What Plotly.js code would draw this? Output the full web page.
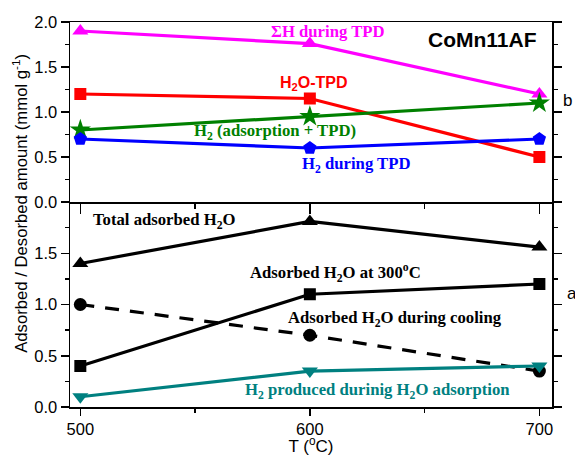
<!DOCTYPE html>
<html>
<head>
<meta charset="utf-8">
<script src="https://cdn.plot.ly/plotly-3.0.1.min.js"></script>
<style>html,body{margin:0;padding:0;background:#fff;}#chart{width:575px;height:456px;}</style>
</head>
<body>
<div id="chart"></div>
<script>
// Temperatures (°C)
const temps = [500, 600, 700];

// Panel b (top)
const sumH_TPD = [1.90, 1.76, 1.20];
const h2o_TPD = [1.20, 1.15, 0.50];
const h2_adsTPD = [0.80, 0.95, 1.10];
const h2_duringTPD = [0.70, 0.60, 0.70];

// Panel a (bottom)
const totalAdsH2O = [1.40, 1.81, 1.56];
const adsH2O_300 = [0.40, 1.10, 1.20];
const adsH2O_cooling = [1.00, 0.70, 0.35];
const h2_producedAds = [0.10, 0.35, 0.40];

const serif = 'Liberation Serif, Times New Roman, serif';
const sans = 'Liberation Sans, Arial, sans-serif';

function tr(y, color, symbol, xa, ya, dash, size) {
  return {
    x: temps, y: y, xaxis: xa, yaxis: ya, type: 'scatter', mode: 'lines+markers',
    line: {color: color, width: 3.2, dash: dash || 'solid'},
    marker: {color: color, symbol: symbol, size: size || 14},
    showlegend: false, cliponaxis: false
  };
}

const data = [
  tr(sumH_TPD, '#FF00FF', 'triangle-up', 'x2', 'y2'),
  tr(h2o_TPD, '#FF0000', 'square', 'x2', 'y2', null, 12),
  tr(h2_adsTPD, '#008000', 'star', 'x2', 'y2', null, 16),
  tr(h2_duringTPD, '#0000FF', 'pentagon', 'x2', 'y2', null, 14),
  tr(totalAdsH2O, '#000000', 'triangle-up', 'x', 'y'),
  tr(adsH2O_300, '#000000', 'square', 'x', 'y', null, 12),
  tr(adsH2O_cooling, '#000000', 'circle', 'x', 'y', '14px,11px', 13),
  tr(h2_producedAds, '#008080', 'triangle-down', 'x', 'y')
];

const split = 205/385;
const axisCommon = {
  showline: true, linecolor: '#000', linewidth: 1.5, showgrid: false, zeroline: false,
  ticks: 'outside', tickcolor: '#000', tickwidth: 1.5,
  tickfont: {family: sans, size: 16.5, color: '#000'}
};

function ann(text, x, y, color, xref, yref, family, size) {
  return {text: text, x: x, y: y, xref: xref, yref: yref, showarrow: false,
    xanchor: 'center', yanchor: 'middle',
    font: {family: family || serif, size: size || 16.7, color: color}};
}

const layout = {
  width: 575, height: 456,
  margin: {l: 70, r: 23, t: 22, b: 49},
  paper_bgcolor: '#fff', plot_bgcolor: '#fff',
  xaxis: Object.assign({}, axisCommon, {
    domain: [0, 1], anchor: 'y', range: [495.5, 705.5],
    tickmode: 'array', tickvals: [500, 600, 700], ticklen: 7,
    minor: {tickvals: [550, 650], ticklen: 4, ticks: 'outside', tickcolor: '#000', tickwidth: 1.5},
    title: {text: 'T (<sup>o</sup>C)', font: {family: sans, size: 17, color: '#000'}, standoff: 5}
  }),
  xaxis2: Object.assign({}, axisCommon, {
    domain: [0, 1], anchor: 'y2', matches: 'x', range: [495.5, 705.5],
    showticklabels: false, mirror: true,
    tickmode: 'array', tickvals: [500, 600, 700], ticklen: 10,
    minor: {tickvals: [550, 650], ticklen: 5, ticks: 'outside', tickcolor: '#000', tickwidth: 1.5}
  }),
  yaxis: Object.assign({}, axisCommon, {
    domain: [0, split], anchor: 'x', range: [0, 2],
    tickmode: 'array', tickvals: [0, 0.5, 1.0, 1.5], ticktext: ['0.0', '0.5', '1.0', '1.5'],
    ticklen: 8, mirror: 'ticks',
    minor: {tickvals: [0.25, 0.75, 1.25, 1.75], ticklen: 4, ticks: 'outside', tickcolor: '#000', tickwidth: 1.5}
  }),
  yaxis2: Object.assign({}, axisCommon, {
    domain: [split, 1], anchor: 'x2', range: [0, 2],
    tickmode: 'array', tickvals: [0, 0.5, 1.0, 1.5, 2.0], ticktext: ['0.0', '0.5', '1.0', '1.5', '2.0'],
    ticklen: 8, mirror: 'ticks',
    minor: {tickvals: [0.25, 0.75, 1.25, 1.75], ticklen: 4, ticks: 'outside', tickcolor: '#000', tickwidth: 1.5}
  }),
  annotations: [
    ann('<b>ΣH during TPD</b>', 607.7, 1.89, '#FF00FF', 'x2', 'y2'),
    ann('<b>CoMn11AF</b>', 675.4, 1.81, '#000', 'x2', 'y2', sans, 21),
    ann('<b>H<sub>2</sub>O-TPD</b>', 602, 1.32, '#FF0000', 'x2', 'y2', sans, 16),
    ann('<b>H<sub>2</sub> (adsorption + TPD)</b>', 584.8, 0.78, '#008000', 'x2', 'y2'),
    ann('<b>H<sub>2</sub> during TPD</b>', 620.2, 0.41, '#0000FF', 'x2', 'y2'),
    ann('<b>Total adsorbed H<sub>2</sub>O</b>', 536.3, 1.81, '#000', 'x', 'y'),
    ann('<b>Adsorbed H<sub>2</sub>O at 300<sup>o</sup>C</b>', 611.2, 1.31, '#000', 'x', 'y'),
    ann('<b>Adsorbed H<sub>2</sub>O during cooling</b>', 636.9, 0.857, '#000', 'x', 'y'),
    ann('<b>H<sub>2</sub> produced durinig H<sub>2</sub>O adsorption</b>', 629.6, 0.158, '#008080', 'x', 'y'),
    ann('b', 1.033, 0.797, '#000', 'paper', 'paper', sans, 17),
    ann('a', 1.041, 0.296, '#000', 'paper', 'paper', sans, 17),
    {text: 'Adsorbed / Desorbed amount (mmol g<sup>-1</sup>)', x: -0.104, y: 0.53, xref: 'paper', yref: 'paper',
     showarrow: false, textangle: -90, xanchor: 'center', yanchor: 'middle',
     font: {family: sans, size: 16.7, color: '#000'}}
  ]
};

Plotly.newPlot('chart', data, layout, {displayModeBar: false, staticPlot: true});
</script>
</body>
</html>
